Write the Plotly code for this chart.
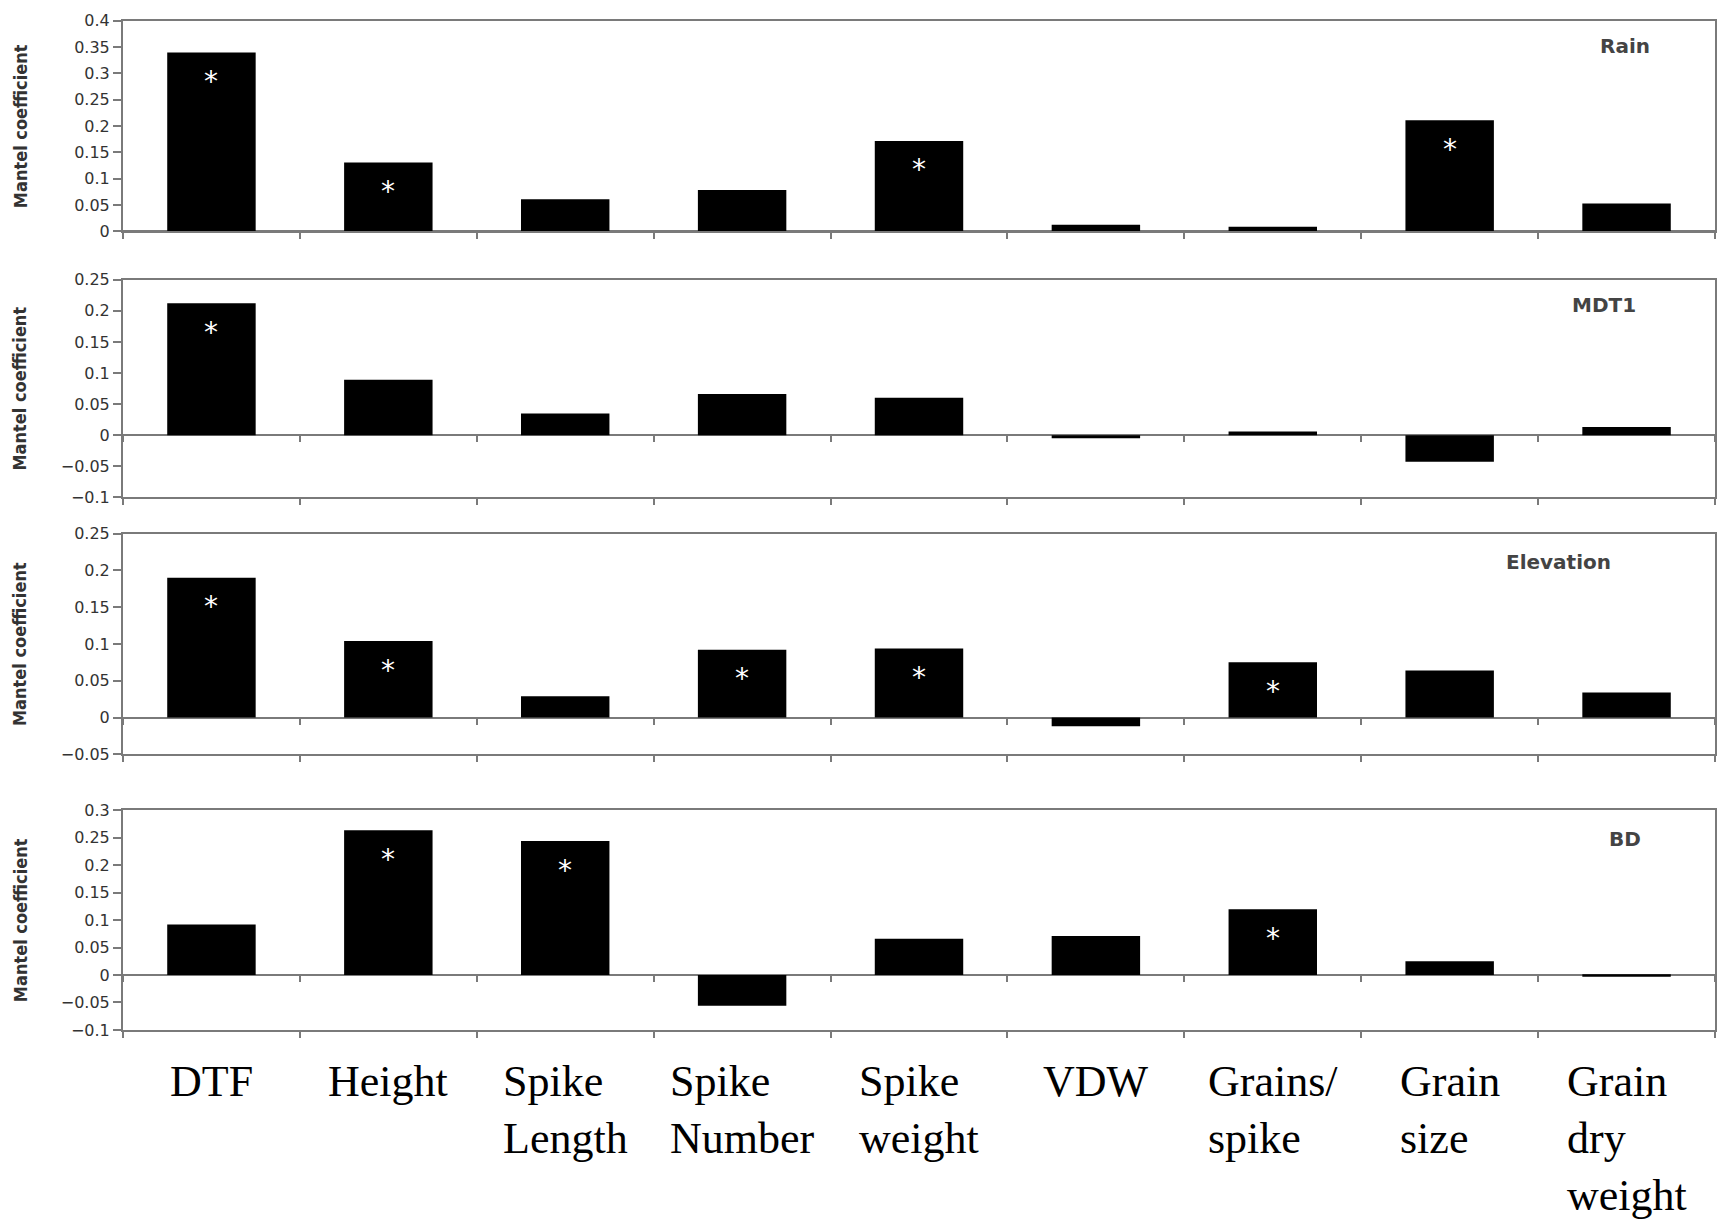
import plotly.graph_objects as go

# ---------------- data ----------------
categories = ["DTF", "Height", "Spike Length", "Spike Number", "Spike weight",
              "VDW", "Grains/spike", "Grain size", "Grain dry weight"]
category_labels = ["DTF", "Height", "Spike<br>Length", "Spike<br>Number", "Spike<br>weight",
                   "VDW", "Grains/<br>spike", "Grain<br>size", "Grain<br>dry<br>weight"]

panel_names = ["Rain", "MDT1", "Elevation", "BD"]

rain = [0.340, 0.131, 0.061, 0.079, 0.172, 0.013, 0.009, 0.211, 0.053]
rain_sig = [1, 1, 0, 0, 1, 0, 0, 1, 0]

mdt1 = [0.212, 0.089, 0.035, 0.066, 0.060, -0.005, 0.006, -0.043, 0.013]
mdt1_sig = [1, 0, 0, 0, 0, 0, 0, 0, 0]

elevation = [0.190, 0.104, 0.029, 0.092, 0.094, -0.012, 0.075, 0.064, 0.034]
elevation_sig = [1, 1, 0, 1, 1, 0, 1, 0, 0]

bd = [0.092, 0.264, 0.244, -0.056, 0.066, 0.071, 0.120, 0.025, -0.003]
bd_sig = [0, 1, 1, 0, 0, 0, 1, 0, 0]

y_ranges = [[0, 0.4], [-0.1, 0.25], [-0.05, 0.25], [-0.1, 0.3]]

# ---------------- layout geometry (pixels) ----------------
W, H = 1725, 1225
x_left, x_right = 123, 1715
panel_px = [(12, 226), (275, 496), (533, 757), (814, 1037)]
label_pos = [(1625, 38), (1604, 301), (1558, 562), (1625, 843)]

series = [rain, mdt1, elevation, bd]
sigs = [rain_sig, mdt1_sig, elevation_sig, bd_sig]

AXCOL = "#7a7a7a"
TICKFONT = dict(family="DejaVu Sans", size=16, color="#333333")

fig = go.Figure()
annotations = []

xdom = [x_left / W, x_right / W]

for i in range(4):
    k = i + 1
    top, bot = panel_px[i]
    ydom = [1 - bot / H, 1 - top / H]
    fig.add_trace(go.Bar(x=categories, y=series[i], marker=dict(color="black", line=dict(width=0)),
                         xaxis=f"x{k}", yaxis=f"y{k}", showlegend=False))
    fig.layout[f"xaxis{k}"] = dict(
        domain=xdom, anchor=f"y{k}", type="category", categoryorder="array",
        categoryarray=categories, range=[-0.5, 8.5],
        showline=True, linecolor=AXCOL, linewidth=2, mirror=True,
        ticks="outside", tickson="boundaries", ticklen=6, tickcolor=AXCOL, tickwidth=2,
        showticklabels=False, showgrid=False, zeroline=False)
    fig.layout[f"yaxis{k}"] = dict(
        domain=ydom, anchor=f"x{k}", range=y_ranges[i], tick0=0, dtick=0.05,
        showline=True, linecolor=AXCOL, linewidth=2, mirror=True,
        ticks="outside", ticklen=8, tickcolor=AXCOL, tickwidth=2,
        tickfont=TICKFONT, showgrid=False,
        zeroline=True, zerolinecolor=AXCOL, zerolinewidth=2)
    # ticks along the zero line for panels with negative range
    if y_ranges[i][0] < 0:
        kk = 4 + k
        frac = (0 - y_ranges[i][0]) / (y_ranges[i][1] - y_ranges[i][0])
        pos = ydom[0] + frac * (ydom[1] - ydom[0])
        fig.add_trace(go.Scatter(x=categories, y=[None] * 9, mode="markers",
                                 xaxis=f"x{kk}", yaxis=f"y{k}", showlegend=False,
                                 hoverinfo="skip"))
        fig.layout[f"xaxis{kk}"] = dict(
            overlaying=f"x{k}", anchor="free", position=pos, type="category",
            categoryorder="array", categoryarray=categories, range=[-0.5, 8.5],
            showline=False, ticks="outside", tickson="boundaries", ticklen=6,
            tickcolor=AXCOL, tickwidth=2, showticklabels=False, showgrid=False,
            zeroline=False)
    # significance stars
    for c, v, s in zip(categories, series[i], sigs[i]):
        if s:
            annotations.append(dict(x=c, y=v, xref=f"x{k}", yref=f"y{k}", text="*",
                                    showarrow=False, yanchor="middle", yshift=-29,
                                    font=dict(family="DejaVu Sans", size=28, color="white")))
    # panel label
    lx, ly = label_pos[i]
    annotations.append(dict(x=lx / W, y=1 - ly / H, xref="paper", yref="paper",
                            text=panel_names[i], showarrow=False,
                            xanchor="center", yanchor="middle",
                            font=dict(family="DejaVu Sans", size=20, color="#444444",
                                      weight="bold")))
    # y-axis title
    annotations.append(dict(x=20 / W, y=(ydom[0] + ydom[1]) / 2, xref="paper", yref="paper",
                            text="Mantel coefficient", textangle=-90, showarrow=False,
                            xanchor="center", yanchor="middle",
                            font=dict(family="DejaVu Sans Condensed, Liberation Sans Narrow, sans-serif",
                                      size=18, color="#333333", weight="bold")))

# category labels below the bottom panel
for c, lab in zip(categories, category_labels):
    annotations.append(dict(x=c, y=1 - 1062 / H, xref="x4", yref="paper", text=lab,
                            showarrow=False, xanchor="center", yanchor="top", align="left",
                            font=dict(family="Liberation Serif, Times New Roman, serif",
                                      size=44, color="black")))

fig.update_layout(
    width=W, height=H, margin=dict(l=0, r=0, t=0, b=0),
    paper_bgcolor="white", plot_bgcolor="white",
    bargap=0.5, annotations=annotations, showlegend=False)

fig.write_html("out.html")
